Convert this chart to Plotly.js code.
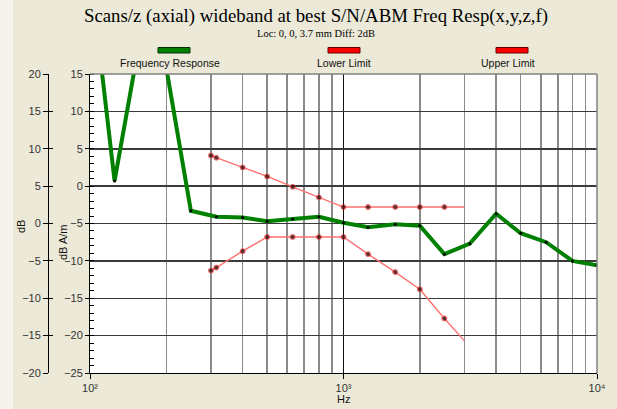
<!DOCTYPE html>
<html>
<head>
<meta charset="utf-8">
<script src="https://cdn.plot.ly/plotly-3.0.1.min.js"></script>
<style>html,body{margin:0;padding:0;background:#ECE9D8;}#chart{width:617px;height:409px;}</style>
</head>
<body>
<div id="chart"></div>
<script>
// ---- data ----
const freq = [100,125,160,200,250,315,400,500,630,800,1000,1250,1600,2000,2500,3150,4000,5000,6300,8000,10000];
const response = [29,0.7,21,15.8,-3.3,-4.1,-4.2,-4.7,-4.4,-4.1,-4.9,-5.5,-5.1,-5.3,-9.1,-7.7,-3.7,-6.3,-7.5,-10.0,-10.6];
const limitFreq = [300,315,400,500,630,800,1000,1250,1600,2000,2500,3000];
const upperLimit = [4.1,3.8,2.5,1.3,-0.1,-1.5,-2.8,-2.8,-2.8,-2.8,-2.8,-2.8];
const lowerLimit = [-11.3,-10.9,-8.7,-6.8,-6.8,-6.8,-6.8,-9.1,-11.5,-13.8,-17.7,-20.7];
const xTickVals = [100,1000,10000];
const xTickText = ['10\u00B2','10\u00B3','10\u2074'];
const xMinorGrid = [200,300,400,500,600,700,800,900,2000,3000,4000,5000,6000,7000,8000,9000];
const titleText = 'Scans/z (axial) wideband at best S/N/ABM Freq Resp(x,y,z,f)';
const subtitleText = 'Loc: 0, 0, 3.7 mm Diff: 2dB';
const legendNames = ['Frequency Response','Lower Limit','Upper Limit'];

// ---- geometry helpers (pixel -> paper) ----
const W = 617, H = 409, ML = 40, MR = 20, MT = 74, MB = 36;
const PW = W - ML - MR, PH = H - MT - MB;
const px = p => (p - ML) / PW;
const py = p => (H - MB - p) / PH;

const sansFont = 'Liberation Sans, Arial, sans-serif';
const serifFont = 'Liberation Serif, Times New Roman, serif';
const redMarkerSizes = limitFreq.map((f, i) => i === limitFreq.length - 1 ? 0 : 5);

const traces = [
  {x: freq, y: response, type: 'scatter', mode: 'lines+markers', name: legendNames[0],
   line: {color: '#008000', width: 4}, marker: {color: '#000', size: 3}, xaxis: 'x', yaxis: 'y'},
  {x: limitFreq, y: lowerLimit, type: 'scatter', mode: 'lines+markers', name: legendNames[1],
   line: {color: '#FF7070', width: 1.4}, marker: {color: '#200000', size: redMarkerSizes, line: {color: '#FF3030', width: 1}}, xaxis: 'x', yaxis: 'y'},
  {x: limitFreq, y: upperLimit, type: 'scatter', mode: 'lines+markers', name: legendNames[2],
   line: {color: '#FF7070', width: 1.4}, marker: {color: '#200000', size: redMarkerSizes, line: {color: '#FF3030', width: 1}}, xaxis: 'x', yaxis: 'y'},
  {x: [], y: [], type: 'scatter', yaxis: 'y2', showlegend: false, hoverinfo: 'skip'},
  {x: [], y: [], type: 'scatter', yaxis: 'y3', showlegend: false, hoverinfo: 'skip'}
];

const tickFont = {family: sansFont, size: 11, color: '#333'};
const barCenters = [174, 344, 512];
const labelCenters = [170, 344, 508];
const legendColors = [['#008000','#003000'], ['#FF0000','#600000'], ['#FF0000','#600000']];

const shapes = [
  {type: 'rect', xref: 'paper', yref: 'paper', x0: px(0), x1: px(13), y0: py(H), y1: py(0), fillcolor: '#F4F3EE', line: {width: 0}, layer: 'below'},
  {type: 'line', xref: 'paper', yref: 'paper', x0: px(90), x1: px(597), y0: 1, y1: 1, line: {color: '#808080', width: 1.5}},
  {type: 'line', xref: 'paper', yref: 'paper', x0: 1, x1: 1, y0: 0, y1: 1, line: {color: '#808080', width: 1.5}}
];
barCenters.forEach((c, i) => {
  shapes.push({type: 'rect', xref: 'paper', yref: 'paper', x0: px(c - 16), x1: px(c + 16), y0: py(53), y1: py(47.5),
    fillcolor: legendColors[i][0], line: {color: legendColors[i][1], width: 1}});
});

const annotations = [
  {text: titleText, xref: 'paper', yref: 'paper', x: px(316), y: py(16), showarrow: false, xanchor: 'center', yanchor: 'middle',
   font: {family: serifFont, size: 18.8, color: '#000'}},
  {text: subtitleText, xref: 'paper', yref: 'paper', x: px(316), y: py(33), showarrow: false, xanchor: 'center', yanchor: 'middle',
   font: {family: serifFont, size: 10.5, color: '#000'}},
  {text: 'dB', xref: 'paper', yref: 'paper', x: px(21), y: py(227), showarrow: false, textangle: -90, xanchor: 'center', yanchor: 'middle',
   font: {family: sansFont, size: 11, color: '#111'}},
  {text: 'dB A/m', xref: 'paper', yref: 'paper', x: px(63), y: py(243), showarrow: false, textangle: -90, xanchor: 'center', yanchor: 'middle',
   font: {family: sansFont, size: 11, color: '#111'}},
  {text: 'Hz', xref: 'paper', yref: 'paper', x: px(343), y: py(399), showarrow: false, xanchor: 'center', yanchor: 'middle',
   font: {family: sansFont, size: 11, color: '#111'}}
];
legendNames.forEach((n, i) => {
  annotations.push({text: n, xref: 'paper', yref: 'paper', x: px(labelCenters[i]), y: py(63.5), showarrow: false,
    xanchor: 'center', yanchor: 'middle', font: {family: sansFont, size: 10.5, color: '#111'}});
});

const layout = {
  width: W, height: H,
  margin: {l: ML, r: MR, t: MT, b: MB, pad: 0},
  paper_bgcolor: '#ECE9D8', plot_bgcolor: '#FFFFFF',
  showlegend: false,
  xaxis: {type: 'log', range: [2, 4], domain: [px(90), 1], anchor: 'y',
    tickvals: xTickVals, ticktext: xTickText, tickfont: tickFont,
    ticks: 'outside', ticklen: 5, tickcolor: '#000',
    showline: true, linecolor: '#000', linewidth: 1,
    showgrid: true, gridcolor: '#111', gridwidth: 1.2, zeroline: false,
    minor: {tickvals: xMinorGrid, showgrid: true, gridcolor: '#8A8A8A', gridwidth: 1.6, ticks: ''}},
  yaxis: {range: [-25, 15], dtick: 5, tick0: 0, anchor: 'x', side: 'left',
    tickfont: tickFont, ticks: 'outside', ticklen: 4, tickcolor: '#000',
    showline: true, linecolor: '#000', linewidth: 1,
    showgrid: true, gridcolor: '#3A3A3A', gridwidth: 1.5, zeroline: false,
    minor: {dtick: 1, ticks: 'inside', ticklen: 4, tickcolor: '#000', showgrid: false}},
  yaxis2: {range: [-20, 20], dtick: 5, tick0: 0, overlaying: 'y', anchor: 'free', position: px(48), side: 'left',
    tickfont: tickFont, ticks: 'outside', ticklen: 5, tickcolor: '#000',
    showline: true, linecolor: '#000', linewidth: 1, showgrid: false, zeroline: false},
  yaxis3: {range: [-20, 20], dtick: 5, tick0: 0, overlaying: 'y', anchor: 'free', position: px(48), side: 'left',
    showticklabels: false, ticks: 'inside', ticklen: 4, tickcolor: '#000',
    showline: false, showgrid: false, zeroline: false},
  shapes: shapes,
  annotations: annotations
};

Plotly.newPlot('chart', traces, layout, {displayModeBar: false, staticPlot: true});
</script>
</body>
</html>
